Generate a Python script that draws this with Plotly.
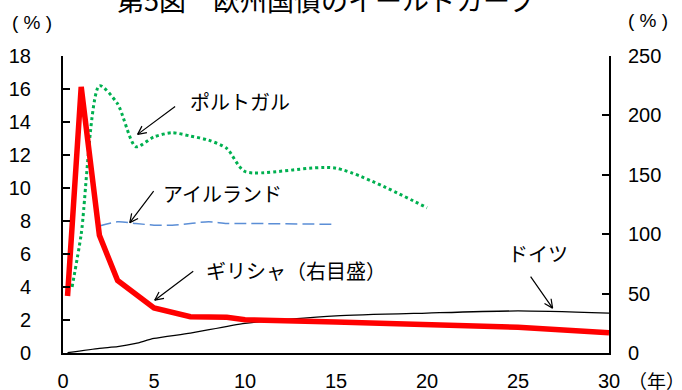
import math
import plotly.graph_objects as go

# Yield curves (maturity in years, yield in %)
years_de = [0.25, 2, 3, 4, 5, 7, 10, 15, 20, 25, 30]
germany = [0.02, 0.28, 0.38, 0.58, 0.88, 1.2, 1.8, 2.25, 2.42, 2.55, 2.42]

years_ie = [2, 3, 4, 5, 6, 7, 8, 9, 10, 15]
ireland = [7.7, 7.95, 7.85, 7.75, 7.75, 7.85, 7.95, 7.85, 7.85, 7.8]

years_pt = [0.5, 1, 2, 3, 4, 5, 6, 7, 8, 9, 10, 15, 20]
portugal = [4.0, 7.2, 16.2, 15.1, 12.5, 13.1, 13.35, 13.15, 12.9, 12.4, 11.0, 11.2, 8.8]

# Greece is plotted against the right-hand scale
years_gr = [0.25, 1, 2, 3, 5, 6, 7, 9, 10, 15, 25, 30]
greece = [48, 224, 99, 61, 38, 34.5, 30.5, 30, 28, 26, 21.7, 17]

x_ticks = [0, 5, 10, 15, 20, 25, 30]
left_ticks = list(range(0, 19, 2))
right_ticks = [0, 50, 100, 150, 200, 250]

W, H = 682, 390
ML, MR, MT, MB = 63, 73, 56, 37
PW, PH = W - ML - MR, H - MT - MB

LAT = "Liberation Sans, Arial, sans-serif"
JP = "Noto Sans CJK JP, sans-serif"


def px(xp):
    return (xp - ML) / PW


def py(yp):
    return (H - MB - yp) / PH


fig = go.Figure()
fig.add_trace(go.Scatter(x=years_de, y=germany, mode="lines",
                         line=dict(color="black", width=1.3, shape="spline", smoothing=0.6)))
fig.add_trace(go.Scatter(x=years_ie, y=ireland, mode="lines",
                         line=dict(color="#5B8ED6", width=1.5, dash="12px,5px",
                                   shape="spline", smoothing=0.8)))
fig.add_trace(go.Scatter(x=years_pt, y=portugal, mode="lines",
                         line=dict(color="#00B050", width=3, dash="3px,3px",
                                   shape="spline", smoothing=0.7)))
fig.add_trace(go.Scatter(x=years_gr, y=greece, mode="lines", yaxis="y2",
                         line=dict(color="#FF0000", width=5.5)))

ann = []


def label(text, xp, yp, size=20, xanchor="left", family=JP):
    ann.append(dict(text=text, xref="paper", yref="paper", x=px(xp), y=py(yp),
                    xanchor=xanchor, yanchor="middle", showarrow=False,
                    font=dict(family=family, size=size, color="black")))


def pointer(hx, hy, dx, dy, yref="y"):
    # shaft from the label side to the head, then an open V head
    ann.append(dict(text="", x=hx, y=hy, xref="x", yref=yref, ax=dx, ay=dy,
                    showarrow=True, arrowhead=0, arrowwidth=1.2, arrowcolor="black"))
    ang = math.atan2(dy, dx)
    for d in (-0.45, 0.45):
        a = ang + d
        ann.append(dict(text="", x=hx, y=hy, xref="x", yref=yref,
                        ax=11 * math.cos(a), ay=11 * math.sin(a),
                        showarrow=True, arrowhead=0, arrowwidth=1.2, arrowcolor="black"))


# Title (partly above the page)
label("第5図　欧州国債のイールドカーブ", 326, 0, size=27, xanchor="center")

label("ポルトガル", 188, 102)
pointer(4.1, 13.25, 39, -29)
label("アイルランド", 161, 193)
pointer(3.67, 7.9, 25, -33)
label("ギリシャ（右目盛）", 204, 270)
pointer(5.04, 3.2, 40, -30)
label("ドイツ", 506, 253)
pointer(26.9, 2.72, -23, -33)

label("( % )", 32, 22, size=19, xanchor="center", family=LAT)
label("( % )", 648, 20, size=19, xanchor="center", family=LAT)
label("（年）", 656, 380, size=19, xanchor="center")

fig.update_layout(
    width=W, height=H,
    margin=dict(l=ML, r=MR, t=MT, b=MB, pad=0, autoexpand=False),
    paper_bgcolor="white", plot_bgcolor="white",
    showlegend=False,
    font=dict(family=LAT, size=20, color="black"),
    annotations=ann,
    xaxis=dict(range=[0, 30], tickvals=x_ticks, ticks="", showgrid=False, zeroline=False,
               showline=True, linecolor="black", linewidth=2, automargin=False,
               ticklabelstandoff=9, tickfont=dict(size=20)),
    yaxis=dict(range=[0, 18], tickvals=left_ticks, ticks="inside", ticklen=7,
               tickwidth=1.5, tickcolor="black", showgrid=False, zeroline=False,
               showline=True, linecolor="black", linewidth=2, automargin=False,
               ticklabelstandoff=26, tickfont=dict(size=20)),
    yaxis2=dict(range=[0, 250], tickvals=right_ticks, ticks="inside", ticklen=7,
                tickwidth=1.5, tickcolor="black", overlaying="y", side="right",
                showgrid=False, zeroline=False, showline=True, linecolor="black",
                linewidth=2, automargin=False, ticklabelstandoff=13,
                tickfont=dict(size=20)),
)

fig.write_html("out.html")
